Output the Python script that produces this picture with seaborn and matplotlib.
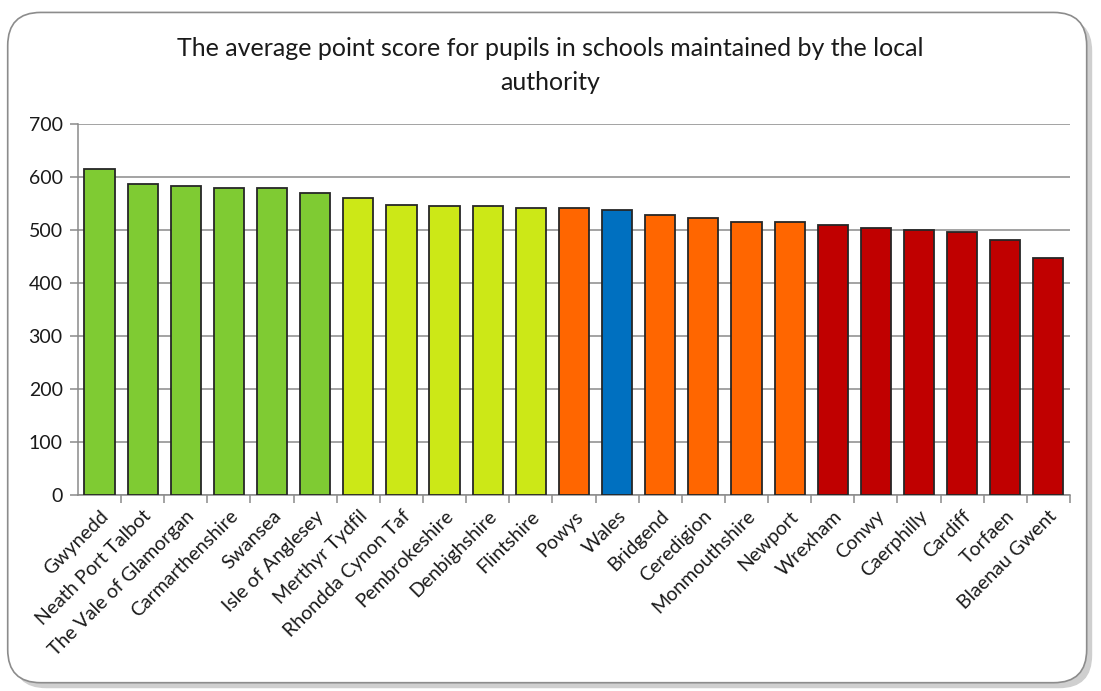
import matplotlib
matplotlib.use("Agg")
import matplotlib.pyplot as plt
from matplotlib.patches import FancyBboxPatch
from matplotlib.ticker import FixedLocator, MultipleLocator
import pandas as pd
import seaborn as sns

# Data
authorities = ["Gwynedd", "Neath Port Talbot", "The Vale of Glamorgan", "Carmarthenshire",
               "Swansea", "Isle of Anglesey", "Merthyr Tydfil", "Rhondda Cynon Taf",
               "Pembrokeshire", "Denbighshire", "Flintshire", "Powys", "Wales", "Bridgend",
               "Ceredigion", "Monmouthshire", "Newport", "Wrexham", "Conwy", "Caerphilly",
               "Cardiff", "Torfaen", "Blaenau Gwent"]
scores = [615, 587, 583, 580, 580, 570, 561, 548, 545, 545, 542, 542, 538, 529,
          522, 516, 516, 509, 503, 500, 497, 481, 448]
bands = ["top"] * 6 + ["upper"] * 5 + ["lower"] + ["wales"] + ["lower"] * 4 + ["bottom"] * 6

band_colours = {"top": "#7FCB33", "upper": "#CCE817", "lower": "#FF6600",
                "wales": "#0070C0", "bottom": "#C00000"}

df = pd.DataFrame({"authority": authorities, "score": scores, "band": bands})

sns.set_theme(style="white")
plt.rcParams["font.family"] = ["Lato", "DejaVu Sans"]

fig = plt.figure(figsize=(11.01, 6.91), dpi=100)
fig.patch.set_facecolor("white")

# rounded chart frame with a soft shadow
fig.patches.append(FancyBboxPatch((0.012, 0.004), 0.98, 0.97, boxstyle="round,pad=0,rounding_size=0.03",
                                  transform=fig.transFigure, facecolor="#cfcfcf", edgecolor="none",
                                  mutation_aspect=1.6, zorder=-2))
fig.patches.append(FancyBboxPatch((0.007, 0.012), 0.98, 0.97, boxstyle="round,pad=0,rounding_size=0.03",
                                  transform=fig.transFigure, facecolor="white", edgecolor="#8c8c8c",
                                  linewidth=1.2, mutation_aspect=1.6, zorder=-1))

ax = fig.add_axes([0.0708, 0.2837, 0.901, 0.5368])
ax.set_facecolor("none")
ax.set_zorder(2)

sns.barplot(data=df, x="authority", y="score", hue="band", palette=band_colours,
            dodge=False, width=0.7, saturation=1, edgecolor="#262626", linewidth=1.3,
            legend=False, ax=ax, zorder=3)

ax.set_ylim(0, 700)
ax.set_xlim(-0.5, len(authorities) - 0.5)
ax.yaxis.set_major_locator(MultipleLocator(100))
ax.grid(axis="y", color="#8a8a8a", linewidth=1.1, zorder=0)
ax.set_axisbelow(True)

for side in ["top", "right"]:
    ax.spines[side].set_visible(False)
for side in ["left", "bottom"]:
    ax.spines[side].set_color("#8a8a8a")
    ax.spines[side].set_linewidth(1.1)

ax.set_xlabel("")
ax.set_ylabel("")
ax.set_xticks(range(len(authorities)))
ax.set_xticklabels(authorities, rotation=45, ha="right", rotation_mode="anchor",
                   fontsize=14, color="#1a1a1a")
ax.tick_params(axis="x", which="major", length=0, pad=9)
ax.xaxis.set_minor_locator(FixedLocator([i + 0.5 for i in range(len(authorities))]))
ax.tick_params(axis="x", which="minor", length=6, color="#8a8a8a", width=1.1, bottom=True)
ax.tick_params(axis="y", length=6, color="#8a8a8a", width=1.1, labelsize=14,
               labelcolor="#1a1a1a", left=True, pad=5)

fig.text(0.5, 0.905, "The average point score for pupils in schools maintained by the local\nauthority",
         ha="center", va="center", fontsize=18, color="#1a1a1a", linespacing=1.6)

fig.savefig("out.png", dpi=100, facecolor="white")
